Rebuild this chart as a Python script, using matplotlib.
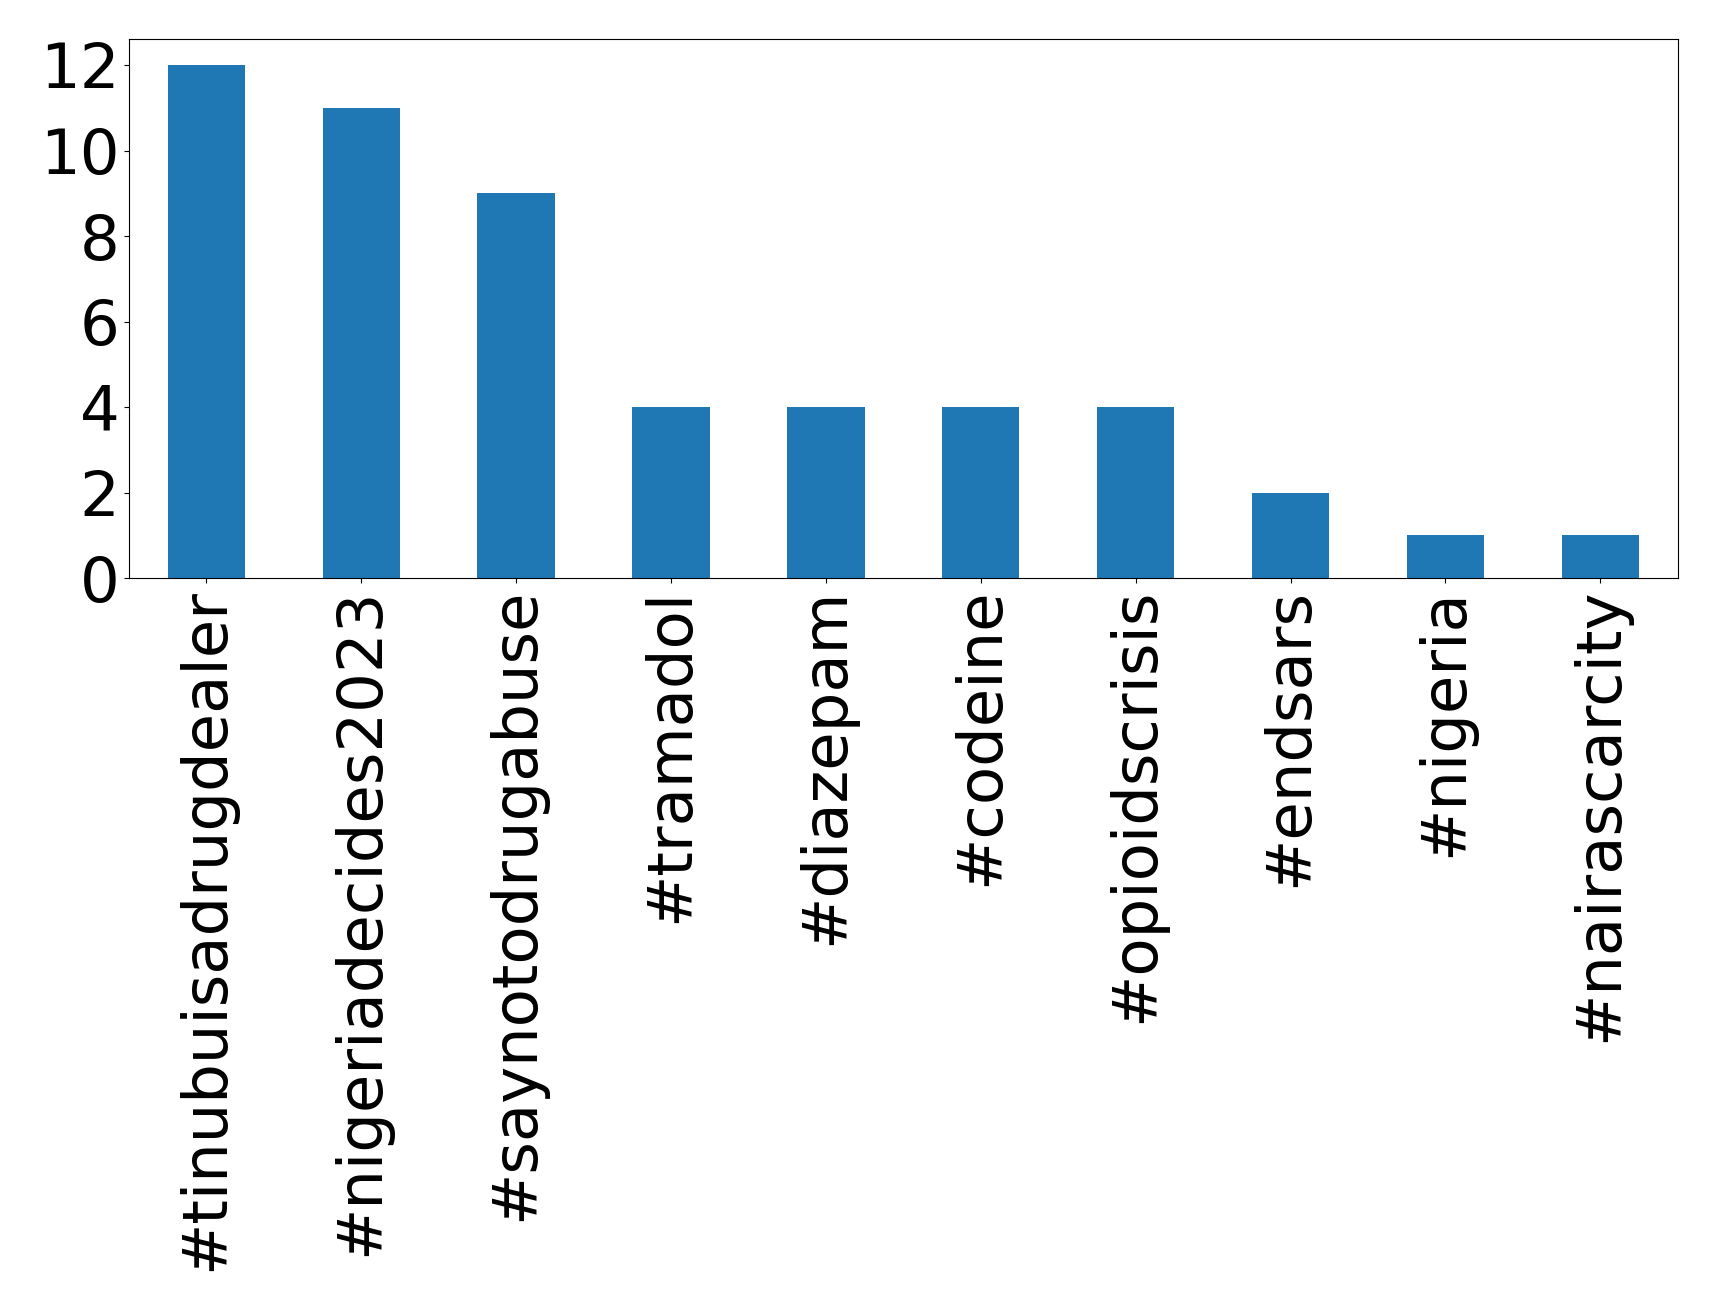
import matplotlib
matplotlib.use("Agg")
import matplotlib.pyplot as plt
import pandas as pd

hashtags = ["#tinubuisadrugdealer", "#nigeriadecides2023", "#saynotodrugabuse",
            "#tramadol", "#diazepam", "#codeine", "#opioidscrisis",
            "#endsars", "#nigeria", "#nairascarcity"]
counts = [12, 11, 9, 4, 4, 4, 4, 2, 1, 1]

serie = pd.Series(counts, index=hashtags)

fig = plt.figure(figsize=(17.19, 13.11), dpi=100)
ax = fig.add_axes([0.075, 0.559, 0.901, 0.411])
serie.plot(kind="bar", ax=ax, color="#1f77b4", width=0.5)
ax.tick_params(axis="both", labelsize=45)
ax.set_yticks([0, 2, 4, 6, 8, 10, 12])
ax.set_xticks(range(len(hashtags)))
ax.set_xticklabels(hashtags, rotation=90)

fig.savefig("out.png", dpi=100)
